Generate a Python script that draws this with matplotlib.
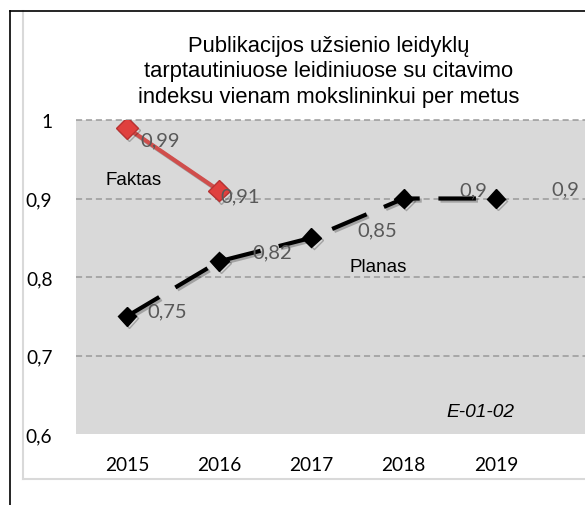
import numpy as np
import matplotlib
matplotlib.use('Agg')
import matplotlib.pyplot as plt
from matplotlib.lines import Line2D
import matplotlib.patheffects as pe

# data
years = ['2015', '2016', '2017', '2018', '2019']
faktas = [0.99, 0.91]
planas = [0.75, 0.82, 0.85, 0.9, 0.9]
y_ticks = [0.6, 0.7, 0.8, 0.9, 1.0]
y_tick_labels = ['0,6', '0,7', '0,8', '0,9', '1']

title = ('Publikacijos užsienio leidyklų\n'
         'tarptautiniuose leidiniuose su citavimo\n'
         'indeksu vienam mokslininkui per metus')

# label offsets in points (x right, y up)
faktas_offsets = [(24, -9), (15, -4)]
planas_offsets = [(29, 4), (38, 7), (47, 6), (50, 6), (50, 7)]

W, H = 585, 506
fig = plt.figure(figsize=(W / 100, H / 100), dpi=100)
fig.patch.set_facecolor('white')

ax = fig.add_axes([76 / W, 71 / H, 1 - 76 / W, (435 - 121) / H])
ax.set_facecolor('#D9D9D9')
for s in ax.spines.values():
    s.set_visible(False)

x = np.arange(len(years))
ax.set_xlim(-0.553, 4.965)
ax.set_ylim(0.6, 1.0)

# dashed gridlines (not at the bottom)
for yv in y_ticks[1:]:
    ax.axhline(yv, color='#9A9A9A', lw=1.1, ls=(0, (4, 2.5)), zorder=1, clip_on=False)

shadow = [pe.SimpleLineShadow(offset=(1.5, -1.5), shadow_color='black', alpha=0.25), pe.Normal()]

ax.plot(x[:len(faktas)], faktas, color='#D04E4C', lw=3, marker='D', ms=11,
        mfc='#E0403E', mec='#B83232', mew=1, zorder=4, path_effects=shadow)
ax.plot(x, planas, color='black', lw=3, dashes=(9, 4.5), marker='D', ms=9.5,
        mfc='black', mec='black', zorder=3, path_effects=shadow)

for xi, v, off in zip(x, faktas, faktas_offsets):
    ax.annotate(f'{v:g}'.replace('.', ','), (xi, v), xytext=off, textcoords='offset points',
                ha='center', va='center', fontsize=14.5, color='#595959', family='Lato', zorder=5)
for xi, v, off in zip(x, planas, planas_offsets):
    ax.annotate(f'{v:g}'.replace('.', ','), (xi, v), xytext=off, textcoords='offset points',
                ha='center', va='center', fontsize=14.5, color='#595959', family='Lato', zorder=5)

ax.text(0.114, 0.812, 'Faktas', transform=ax.transAxes, ha='center', va='center',
        fontsize=13.5, family='Liberation Sans')
ax.text(0.593, 0.535, 'Planas', transform=ax.transAxes, ha='center', va='center',
        fontsize=13.5, family='Liberation Sans')
ax.text(0.794, 0.073, 'E-01-02', transform=ax.transAxes, ha='center', va='center',
        fontsize=13.8, family='Liberation Sans', style='italic')

ax.set_xticks(x)
ax.set_xticklabels(years, fontsize=13.8, family='Lato')
ax.set_yticks(y_ticks)
ax.set_yticklabels(y_tick_labels, fontsize=13.8, family='Lato')
ax.tick_params(axis='x', length=0, pad=16)
ax.tick_params(axis='y', length=0, pad=17)

fig.text(329 / W, 1 - 72 / H, title, ha='center', va='center', fontsize=15.8,
         family='Liberation Sans', linespacing=1.26)

# chart border (light gray) and outer black frame
fig.add_artist(Line2D([22.5 / W, 22.5 / W], [1 - 12 / H, 1 - 480 / H], color='#D9D9D9', lw=1.5))
fig.add_artist(Line2D([22.5 / W, 1], [1 - 480 / H, 1 - 480 / H], color='#D9D9D9', lw=1.5))
fig.add_artist(Line2D([9.5 / W, 9.5 / W], [0, 1 - 12 / H], color='black', lw=1.2))
fig.add_artist(Line2D([9.5 / W, 1], [1 - 12 / H, 1 - 12 / H], color='black', lw=1.2))

fig.savefig('out.png', dpi=100)
